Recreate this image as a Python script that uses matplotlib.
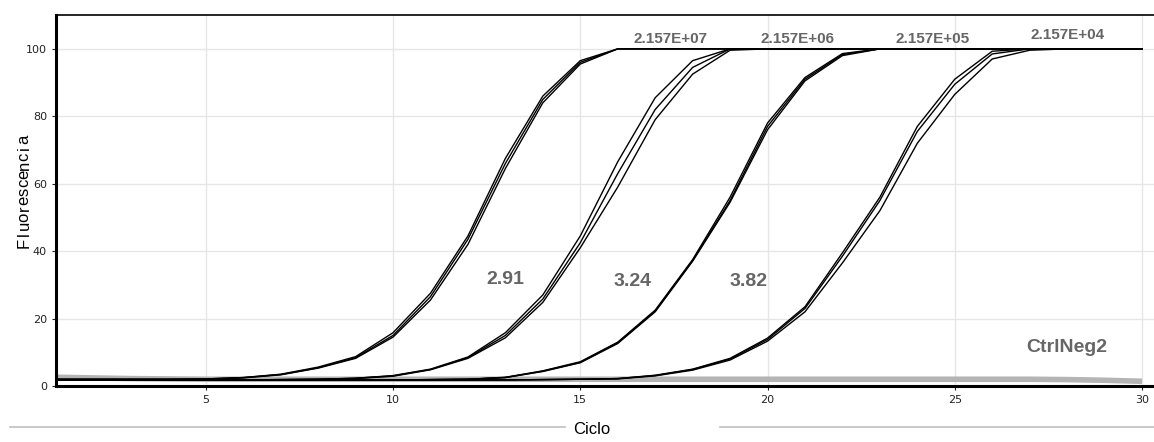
import numpy as np
import matplotlib.pyplot as plt

ciclos = np.arange(1, 31)

# 2.157E+07
g1 = [
    [2.0, 2.0, 2.0, 2.0, 2.1, 2.5, 3.5, 5.6, 8.7, 15.8, 27.5, 44.5, 67.5, 86.0, 96.5,
     100, 100, 100, 100, 100, 100, 100, 100, 100, 100, 100, 100, 100, 100, 100],
    [2.0, 2.0, 2.0, 2.0, 2.1, 2.5, 3.4, 5.4, 8.4, 15.0, 26.5, 43.5, 66.0, 85.0, 96.0,
     100, 100, 100, 100, 100, 100, 100, 100, 100, 100, 100, 100, 100, 100, 100],
    [2.0, 2.0, 2.0, 2.0, 2.0, 2.4, 3.3, 5.3, 8.2, 14.5, 25.5, 42.0, 64.5, 84.0, 95.5,
     100, 100, 100, 100, 100, 100, 100, 100, 100, 100, 100, 100, 100, 100, 100],
]
# 2.157E+06
g2 = [
    [1.8, 1.8, 1.8, 1.8, 1.8, 1.8, 1.9, 2.0, 2.3, 3.1, 5.0, 8.6, 15.8, 27.0, 44.5,
     66.5, 85.5, 96.5, 100, 100, 100, 100, 100, 100, 100, 100, 100, 100, 100, 100],
    [1.8, 1.8, 1.8, 1.8, 1.8, 1.8, 1.9, 2.0, 2.3, 3.0, 4.9, 8.4, 15.0, 25.8, 42.5,
     63.0, 82.0, 94.5, 100, 100, 100, 100, 100, 100, 100, 100, 100, 100, 100, 100],
    [1.8, 1.8, 1.8, 1.8, 1.8, 1.8, 1.9, 2.0, 2.2, 2.9, 4.8, 8.2, 14.3, 24.8, 41.0,
     59.0, 79.0, 92.5, 99.6, 100, 100, 100, 100, 100, 100, 100, 100, 100, 100, 100],
]
# 2.157E+05
g3 = [
    [1.8, 1.8, 1.8, 1.8, 1.8, 1.8, 1.8, 1.8, 1.8, 1.8, 1.9, 2.0, 2.6, 4.5, 7.2,
     13.0, 22.5, 37.5, 56.0, 78.0, 91.5, 98.6, 100, 100, 100, 100, 100, 100, 100, 100],
    [1.8, 1.8, 1.8, 1.8, 1.8, 1.8, 1.8, 1.8, 1.8, 1.8, 1.9, 2.0, 2.5, 4.4, 7.0,
     12.8, 22.2, 37.2, 55.0, 77.0, 91.0, 98.3, 100, 100, 100, 100, 100, 100, 100, 100],
    [1.8, 1.8, 1.8, 1.8, 1.8, 1.8, 1.8, 1.8, 1.8, 1.8, 1.9, 2.0, 2.5, 4.3, 6.9,
     12.6, 22.0, 37.0, 54.5, 76.0, 90.5, 98.0, 100, 100, 100, 100, 100, 100, 100, 100],
]
# 2.157E+04
g4 = [
    [1.8, 1.8, 1.8, 1.8, 1.8, 1.8, 1.8, 1.8, 1.8, 1.8, 1.8, 1.8, 1.8, 1.9, 2.0,
     2.2, 3.2, 5.0, 8.2, 14.2, 23.5, 39.5, 56.0, 77.0, 91.0, 99.3, 100, 100, 100, 100],
    [1.8, 1.8, 1.8, 1.8, 1.8, 1.8, 1.8, 1.8, 1.8, 1.8, 1.8, 1.8, 1.8, 1.9, 2.0,
     2.2, 3.1, 4.9, 8.0, 13.8, 23.0, 38.5, 55.0, 75.5, 89.5, 98.5, 100, 100, 100, 100],
    [1.8, 1.8, 1.8, 1.8, 1.8, 1.8, 1.8, 1.8, 1.8, 1.8, 1.8, 1.8, 1.8, 1.9, 2.0,
     2.1, 3.0, 4.7, 7.7, 13.3, 22.0, 36.5, 52.0, 72.0, 86.5, 97.0, 99.6, 100, 100, 100],
]
ctrl_neg = [2.6, 2.4, 2.2, 2.1, 2.0, 2.0, 2.0, 2.0, 2.0, 2.0, 2.0, 2.0, 2.0, 2.0, 2.0,
            2.0, 2.0, 2.0, 2.0, 2.0, 2.0, 2.0, 2.0, 2.0, 2.0, 2.0, 2.0, 1.9, 1.7, 1.4]

conc_labels = ['2.157E+07', '2.157E+06', '2.157E+05', '2.157E+04']
conc_pos = [(17.4, 103), (20.8, 103), (24.4, 103), (28.0, 104)]
slope_labels = ['2.91', '3.24', '3.82']
slope_pos = [(13.0, 31.5), (16.4, 31), (19.5, 31)]

fig = plt.figure(figsize=(11.54, 4.42), dpi=100)
ax = fig.add_axes([0.0485, 0.1267, 0.9515, 0.839])

ax.plot(ciclos, ctrl_neg, color='#b4b4b4', lw=4, solid_capstyle='butt', zorder=2)
for grp in (g1, g2, g3, g4):
    for rep in grp:
        ax.plot(ciclos, rep, color='black', lw=1.0, zorder=3)

txt = dict(color='#666666', fontsize=11, fontweight='bold', ha='center', va='center',
           family='Liberation Sans')
for lab, (x, y) in zip(conc_labels, conc_pos):
    ax.text(x, y, lab, **txt)
for lab, (x, y) in zip(slope_labels, slope_pos):
    ax.text(x, y, lab, **dict(txt, fontsize=14))
ax.text(28.0, 11.5, 'CtrlNeg2', **dict(txt, fontsize=14))

ax.set_xlim(1, 30.32)
ax.set_ylim(0, 110)
ax.set_xticks([5, 10, 15, 20, 25, 30])
ax.set_yticks([0, 20, 40, 60, 80, 100])
ax.grid(True, color='#e6e6e6', lw=1)
ax.set_axisbelow(True)
ax.tick_params(labelsize=8, colors='#222222', length=3, width=0.8)
for s in ('left', 'bottom'):
    ax.spines[s].set_linewidth(2.2)
ax.spines['top'].set_linewidth(1.2)
ax.spines['right'].set_visible(False)

# y label: letters stacked tightly
word = 'Fluorescencia'
for i, ch in enumerate(word):
    fig.text(24 / 1154, 1 - (243 - i * 8.6) / 442, ch, rotation=90, fontsize=12,
             ha='center', va='center', family='Liberation Sans')

# x label with side rules
fig.text(592 / 1154, 1 - 430 / 442, 'Ciclo', fontsize=12, ha='center', va='center',
         family='Liberation Sans')
fig.add_artist(plt.Line2D([10 / 1154, 565 / 1154], [1 - 427 / 442] * 2, color='#c0c0c0', lw=1.2))
fig.add_artist(plt.Line2D([720 / 1154, 1.0], [1 - 427 / 442] * 2, color='#c0c0c0', lw=1.2))

fig.savefig('out.png', dpi=100)
